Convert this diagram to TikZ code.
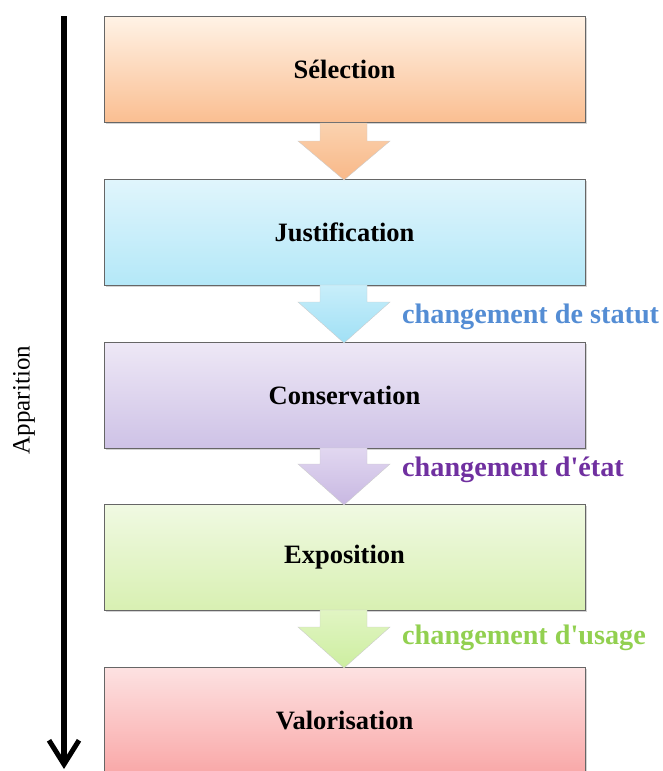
\documentclass[tikz,border=0pt]{standalone}
\usepackage{fontspec}
\setmainfont{Liberation Serif}
\usetikzlibrary{arrows.meta,shadows}
\definecolor{lblue}{HTML}{548DD4}
\definecolor{lpurple}{HTML}{7030A0}
\definecolor{lgreen}{HTML}{92D050}
\tikzset{
  stage/.style={draw=black!60, line width=0.6pt, minimum width=481pt, minimum height=106pt,
    font=\fontsize{26.5}{30}\selectfont\bfseries, drop shadow={shadow xshift=1.5pt, shadow yshift=-1.5pt, opacity=0.35}},
  lab/.style={anchor=west, font=\fontsize{28.2}{32}\selectfont\bfseries, inner sep=0pt},
}
\begin{document}
\begin{tikzpicture}[x=1pt,y=-1pt]
\useasboundingbox (0,0) rectangle (663,771);
\begin{scope}
\clip (0,0) rectangle (663,771);
% stages
\node[stage, top color=orange!10, bottom color={rgb,255:red,250;green,190;blue,145}] (s1) at (344.5,69.5) {Sélection};
\node[stage, top color={rgb,255:red,224;green,245;blue,252}, bottom color={rgb,255:red,180;green,232;blue,248}] (s2) at (344.5,232) {Justification};
\node[stage, top color={rgb,255:red,238;green,232;blue,246}, bottom color={rgb,255:red,206;green,194;blue,230}] (s3) at (344.5,395) {Conservation};
\node[stage, top color={rgb,255:red,240;green,249;blue,226}, bottom color={rgb,255:red,216;green,240;blue,178}] (s4) at (344.5,557.5) {Exposition};
\node[stage, top color={rgb,255:red,253;green,226;blue,226}, bottom color={rgb,255:red,249;green,168;blue,168}] (s5) at (344.5,720) {Valorisation};
% block arrows
\foreach \yt/\yh/\yb/\ca/\cb in {123/141/180/{rgb,255:red,250;green,210;blue,175}/{rgb,255:red,249;green,184;blue,136},
  285/302/343/{rgb,255:red,200;green,238;blue,250}/{rgb,255:red,160;green,224;blue,245},
  448/464/505/{rgb,255:red,225;green,215;blue,240}/{rgb,255:red,200;green,184;blue,226},
  610/627/668/{rgb,255:red,225;green,245;blue,195}/{rgb,255:red,205;green,238;blue,160}}{
  \shade[top color=\ca, bottom color=\cb, draw=black!20, line width=0.4pt]
    (320,\yt) -- (367,\yt) -- (367,\yh) -- (390,\yh) -- (344,\yb) -- (298,\yh) -- (320,\yh) -- cycle;
}
\end{scope}
% labels
\node[lab, text=lblue] (l1) at (402,317) {changement de statut};
\node[lab, text=lpurple] (l2) at (402,470) {changement d\textquotesingle état};
\node[lab, text=lgreen] (l3) at (402,638) {changement d\textquotesingle usage};
% time arrow
\coordinate (ta) at (64,16);
\coordinate (tb) at (64,769);
\draw[line width=5.5pt, -{Straight Barb[length=24pt,width=30pt,line width=5pt]}] (ta) -- (tb);
\node[rotate=90, font=\fontsize{25}{30}\selectfont] (app) at (24,400) {Apparition};
\end{tikzpicture}
\end{document}
